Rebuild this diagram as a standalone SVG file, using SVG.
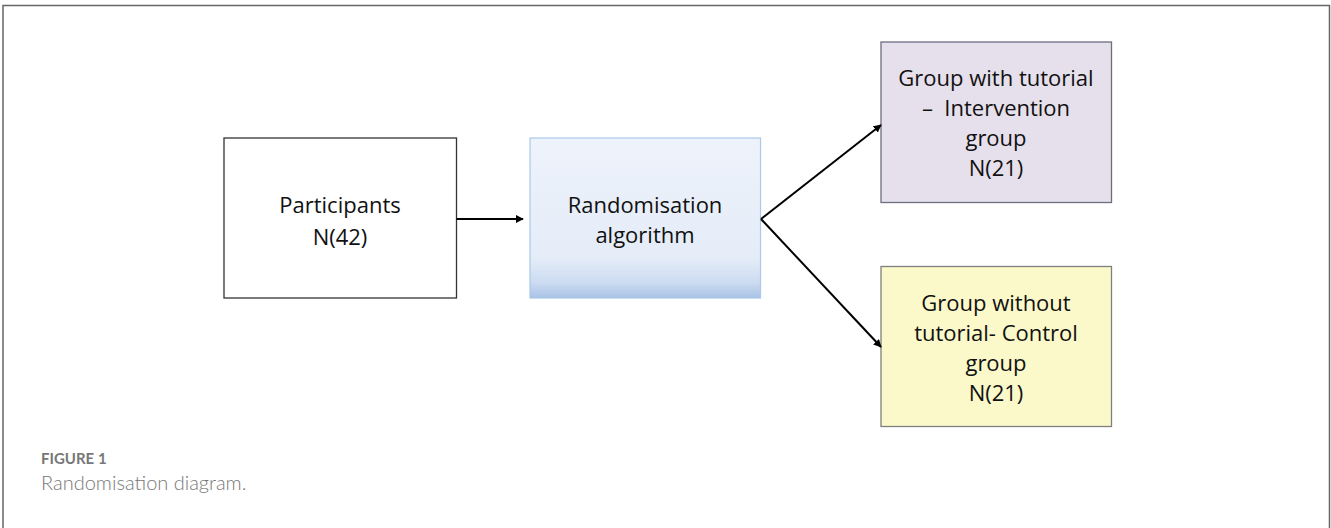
<svg xmlns="http://www.w3.org/2000/svg" width="1331" height="528" viewBox="0 0 1331 528">
  <style>
    .lbl { font-family: "Open Sans", "Liberation Sans", sans-serif; font-size: 22px; fill: #111; text-anchor: middle; }
    .cap { font-family: Lato, "Liberation Sans", sans-serif; fill: #777; }
    .conn { stroke: #000; stroke-width: 2; fill: none; marker-end: url(#head); }
  </style>
  <defs>
    <marker id="head" viewBox="0 0 10 10" refX="9" refY="5" markerWidth="4" markerHeight="4" orient="auto" markerUnits="strokeWidth">
      <path d="M0,0 L10,5 L0,10 z" fill="#000"/>
    </marker>
    <linearGradient id="blueFill" x1="0" y1="0" x2="0" y2="1">
      <stop offset="0" stop-color="#eef3fb"/>
      <stop offset="0.75" stop-color="#e4ecf8"/>
      <stop offset="0.9" stop-color="#cddcf1"/>
      <stop offset="1" stop-color="#a9c3e6"/>
    </linearGradient>
  </defs>

  <rect width="1331" height="528" fill="#fff"/>
  <!-- page frame -->
  <path d="M3,528 V5.5 H1329.5 V528" fill="none" stroke="#666" stroke-width="1.5"/>

  <g id="participants">
    <rect x="224" y="138" width="232.5" height="160" fill="#fff" stroke="#333" stroke-width="1.3"/>
    <text class="lbl" x="340" y="213">Participants</text>
    <text class="lbl" x="340" y="245">N(42)</text>
  </g>

  <g id="randomisation">
    <rect x="530" y="138" width="230.5" height="160" fill="url(#blueFill)" stroke="#a9c8ea" stroke-width="1.2"/>
    <text class="lbl" x="645" y="213">Randomisation</text>
    <text class="lbl" x="645" y="243">algorithm</text>
  </g>

  <g id="intervention">
    <rect x="881" y="42" width="230.5" height="160.5" fill="#e6e0ec" stroke="#6e6e80" stroke-width="1.3"/>
    <text class="lbl" x="996" y="86">Group with tutorial</text>
    <text class="lbl" x="996" y="116">–&#160;&#160;Intervention</text>
    <text class="lbl" x="996" y="146">group</text>
    <text class="lbl" x="996" y="176">N(21)</text>
  </g>

  <g id="control">
    <rect x="881" y="266.5" width="230.5" height="160" fill="#fbf9c9" stroke="#7f7f7f" stroke-width="1.3"/>
    <text class="lbl" x="996" y="311">Group without</text>
    <text class="lbl" x="996" y="341">tutorial- Control</text>
    <text class="lbl" x="996" y="371">group</text>
    <text class="lbl" x="996" y="401">N(21)</text>
  </g>

  <g id="connectors">
    <line class="conn" x1="456.5" y1="219" x2="523" y2="219"/>
    <line class="conn" x1="761" y1="219" x2="881" y2="125"/>
    <line class="conn" x1="761" y1="219" x2="881" y2="347"/>
  </g>

  <g id="caption">
    <text class="cap" x="41" y="464" font-size="15" font-weight="bold">FIGURE 1</text>
    <text class="cap" x="41" y="490" font-size="20" font-weight="300">Randomisation diagram.</text>
  </g>
</svg>
